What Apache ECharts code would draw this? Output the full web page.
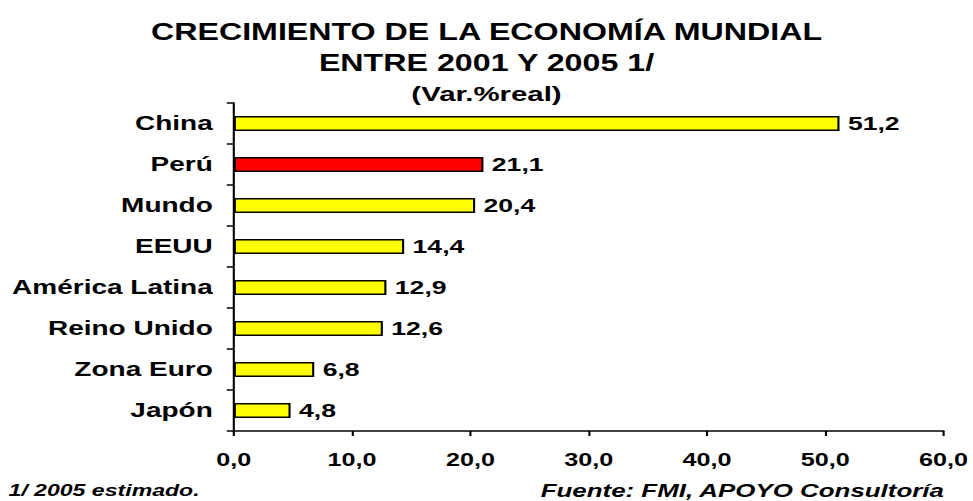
<!DOCTYPE html>
<html>
<head>
<meta charset="utf-8">
<script src="https://cdn.jsdelivr.net/npm/echarts@6/dist/echarts.min.js"></script>
<style>
  html, body { margin: 0; padding: 0; background: #fff; overflow: hidden; }
  /* the reference is stretched sideways, so draw narrow and widen it */
  #chart { width: 695px; height: 501px; transform: scaleX(1.4); transform-origin: 0 0; }
</style>
</head>
<body>
<div id="chart"></div>
<script>
const categories = ['China', 'Perú', 'Mundo', 'EEUU', 'América Latina', 'Reino Unido', 'Zona Euro', 'Japón']
const values = [51.2, 21.1, 20.4, 14.4, 12.9, 12.6, 6.8, 4.8]
const barColors = ['#ffff00', '#ff0000', '#ffff00', '#ffff00', '#ffff00', '#ffff00', '#ffff00', '#ffff00']
const axisMin = 0
const axisMax = 60
const axisStep = 10

const font = "'Liberation Sans', Arial, sans-serif"
const comma = v => Number(v).toFixed(1).replace('.', ',')

const chart = echarts.init(document.getElementById('chart'), null, { renderer: 'svg' })
chart.setOption({
  animation: false,
  title: [
    {
      text: 'CRECIMIENTO DE LA ECONOMÍA MUNDIAL\nENTRE 2001 Y 2005 1/',
      left: 'center',
      top: 17,
      padding: 0,
      textStyle: { fontFamily: font, fontSize: 23, fontWeight: 'bold', color: '#000', lineHeight: 31 },
    },
    {
      text: '(Var.%real)',
      left: 'center',
      top: 83,
      padding: 0,
      textStyle: { fontFamily: font, fontSize: 21, fontWeight: 'bold', color: '#000' },
    },
    {
      text: '1/ 2005 estimado.',
      left: 6,
      top: 482,
      padding: 0,
      textStyle: { fontFamily: font, fontSize: 16.5, fontWeight: 'bold', fontStyle: 'italic', color: '#000' },
    },
    {
      text: 'Fuente: FMI, APOYO Consultoría',
      right: 20,
      top: 481,
      padding: 0,
      textStyle: { fontFamily: font, fontSize: 18.5, fontWeight: 'bold', fontStyle: 'italic', color: '#000' },
    },
  ],
  grid: { left: 167, right: 21, top: 103, bottom: 70 },
  xAxis: {
    type: 'value',
    min: axisMin,
    max: axisMax,
    interval: axisStep,
    splitLine: { show: false },
    axisLine: { show: true, lineStyle: { color: '#000', width: 1.5 } },
    axisTick: { show: true, length: 5, lineStyle: { color: '#000', width: 1.5 } },
    axisLabel: { margin: 20, fontFamily: font, fontSize: 18, fontWeight: 'bold', color: '#000', formatter: comma },
  },
  yAxis: {
    type: 'category',
    data: categories,
    inverse: true,
    axisLine: { show: true, lineStyle: { color: '#000', width: 1.5 } },
    axisTick: { show: true, length: 5, lineStyle: { color: '#000', width: 1.5 } },
    axisLabel: { margin: 15, fontFamily: font, fontSize: 20, fontWeight: 'bold', color: '#000' },
  },
  series: [
    {
      type: 'bar',
      barWidth: 15,
      data: values.map((v, i) => ({ value: v, itemStyle: { color: barColors[i] } })),
      itemStyle: { borderColor: '#000', borderWidth: 1.5 },
      label: {
        show: true,
        position: 'right',
        distance: 6,
        fontFamily: font,
        fontSize: 19,
        fontWeight: 'bold',
        color: '#000',
        formatter: p => comma(p.value),
      },
    },
  ],
})
</script>
</body>
</html>
